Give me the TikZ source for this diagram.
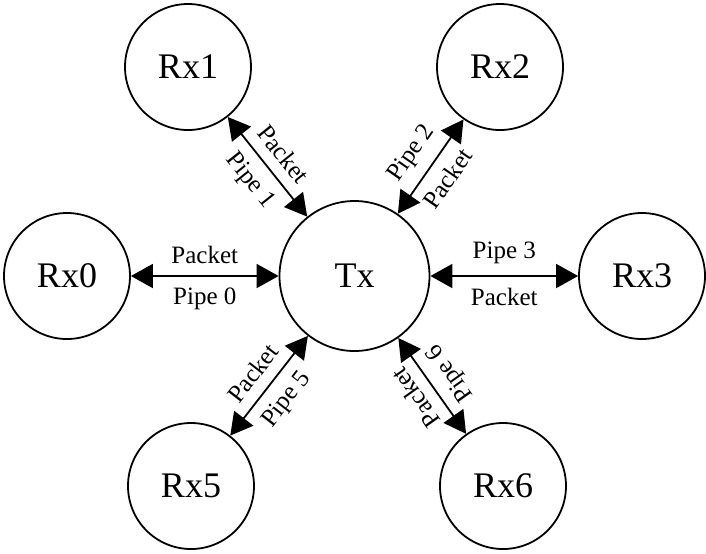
\documentclass[tikz,border=0pt]{standalone}
\usepackage{fontspec}
\setmainfont{Liberation Serif}
\usetikzlibrary{arrows.meta}

\begin{document}
\begin{tikzpicture}[
    x=0.5pt, y=-0.5pt,
    hub/.style={circle, draw, line width=0.9pt, minimum size=75pt, inner sep=0pt, font=\fontsize{18}{21}\selectfont},
    rx/.style={hub, minimum size=63pt},
    link/.style={draw, {Triangle[length=11pt,width=12pt]}-{Triangle[length=11pt,width=12pt]}, line width=0.9pt},
    lbl/.style={sloped, inner sep=5.5pt, font=\fontsize{12.5}{15}\selectfont}
]
    \useasboundingbox (0,0) rectangle (706,553);

    \node [hub] (tx) at (354.5,276) {Tx};
    \node [rx] (rx0) at (67,276) {Rx0};
    \node [rx] (rx1) at (188,67) {Rx1};
    \node [rx] (rx2) at (500,67) {Rx2};
    \node [rx] (rx3) at (642,276) {Rx3};
    \node [rx] (rx5) at (191,486) {Rx5};
    \node [rx] (rx6) at (503,486) {Rx6};

    \draw [link] (rx0) -- node[lbl, above] {Packet} node[lbl, below] {Pipe 0} (tx);
    \draw [link] (rx1) -- node[lbl, above] {Packet} node[lbl, below] {Pipe 1} (tx);
    \draw [link] (tx) -- node[lbl, above] {Pipe 2} node[lbl, below] {Packet} (rx2);
    \draw [link] (tx) -- node[lbl, above] {Pipe 3} node[lbl, below] {Packet} (rx3);
    \draw [link] (rx5) -- node[lbl, above] {Packet} node[lbl, below] {Pipe 5} (tx);
    \draw [link] (rx6) -- node[lbl, allow upside down, above] {Packet} node[lbl, allow upside down, below] {Pipe 6} (tx);
\end{tikzpicture}
\end{document}
